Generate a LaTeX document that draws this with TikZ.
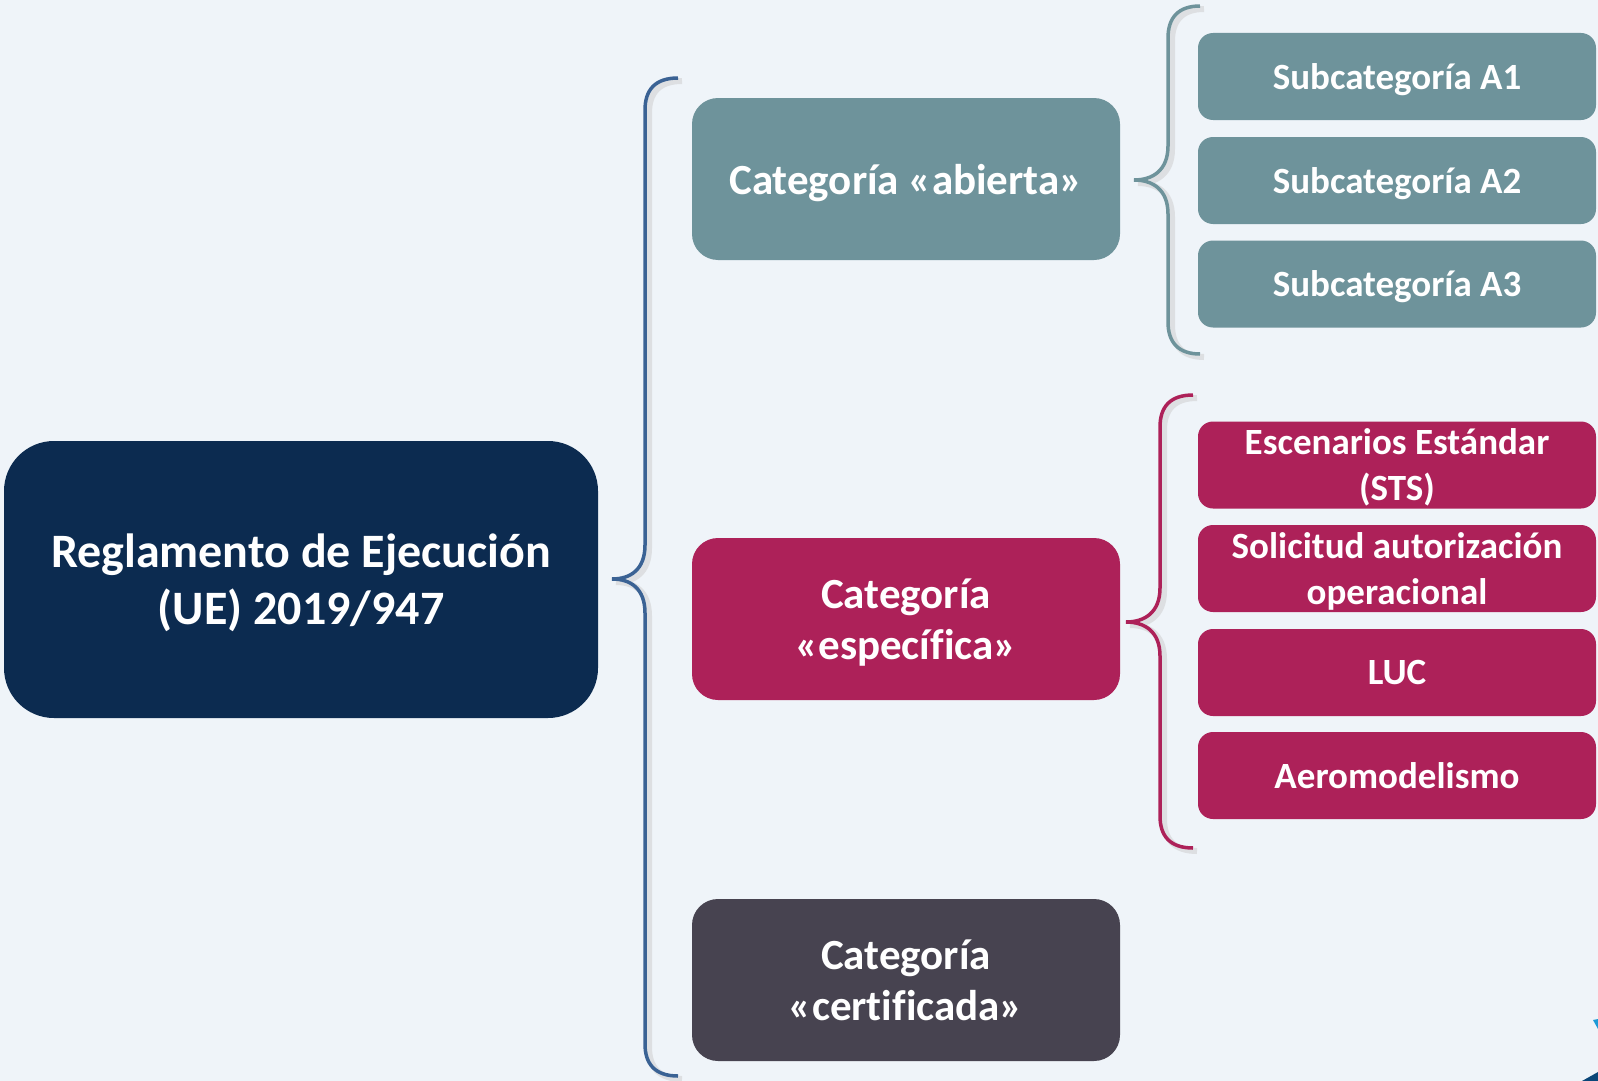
\documentclass[tikz,border=0pt]{standalone}
\usepackage{fontspec}
\setmainfont{Carlito}[Ligatures=NoCommon]
\usepackage{xcolor}
\definecolor{regBg}{RGB}{239,244,249}
\definecolor{regNavy}{RGB}{12,43,80}
\definecolor{regBrace}{RGB}{58,98,148}
\definecolor{regTeal}{RGB}{110,147,155}
\definecolor{regCrimson}{RGB}{173,33,89}
\definecolor{regSlate}{RGB}{71,67,80}
\definecolor{regLogoA}{RGB}{30,154,214}
\definecolor{regLogoB}{RGB}{10,70,120}

% curly brace: tip x, stem x, end x, top y, tip y, bottom y, colour
\newcommand{\regbrace}[7]{%
  \draw[black!20,opacity=0.5,line width=6pt,shift={(4,3)}]
    (#3,#4) .. controls ({#2+10},#4) and (#2,{#4+12}) .. (#2,{#4+32})
    -- (#2,{#5-34}) .. controls (#2,{#5-9}) and ({#1+18},#5) .. (#1,#5)
    .. controls ({#1+18},#5) and (#2,{#5+9}) .. (#2,{#5+34})
    -- (#2,{#6-32}) .. controls (#2,{#6-12}) and ({#2+10},#6) .. (#3,#6);
  \draw[#7,line width=3.5pt]
    (#3,#4) .. controls ({#2+10},#4) and (#2,{#4+12}) .. (#2,{#4+32})
    -- (#2,{#5-34}) .. controls (#2,{#5-9}) and ({#1+18},#5) .. (#1,#5)
    .. controls ({#1+18},#5) and (#2,{#5+9}) .. (#2,{#5+34})
    -- (#2,{#6-32}) .. controls (#2,{#6-12}) and ({#2+10},#6) .. (#3,#6);
}

\tikzset{
  mainbox/.style={fill=regNavy,rounded corners=50pt,minimum width=594pt,
    minimum height=277pt,text=white,align=center,inner sep=0pt,text depth=0pt,
    font=\fontsize{48}{57}\selectfont\bfseries},
  catbox/.style={rounded corners=26pt,minimum width=428pt,minimum height=162pt,
    text=white,align=center,inner sep=0pt,text depth=0pt,
    font=\fontsize{43}{51}\selectfont\bfseries},
  subbox/.style={rounded corners=15pt,minimum width=398pt,minimum height=87pt,
    text=white,align=center,inner sep=0pt,text depth=0pt,
    font=\fontsize{37}{46}\selectfont\bfseries},
}

\begin{document}
\begin{tikzpicture}[x=1pt,y=-1pt]
  \fill[regBg] (0,0) rectangle (1598,1081);
  \useasboundingbox (0,0) rectangle (1598,1081);

  % main regulation
  \node[mainbox] (reg) at (301,579.5) {Reglamento de Ejecución\\(UE) 2019/947};

  % categories
  \node[catbox,fill=regTeal] (abierta) at (906,179) {Categoría «abierta»};
  \node[catbox,fill=regCrimson] (especifica) at (906,619) {Categoría\\«específica»};
  \node[catbox,fill=regSlate] (certificada) at (906,980) {Categoría\\«certificada»};

  % subcategories
  \node[subbox,fill=regTeal] (a1) at (1397,76.5) {Subcategoría A1};
  \node[subbox,fill=regTeal] (a2) at (1397,180.5) {Subcategoría A2};
  \node[subbox,fill=regTeal] (a3) at (1397,284) {Subcategoría A3};
  \node[subbox,fill=regCrimson] (sts) at (1397,465) {Escenarios Estándar\\(STS)};
  \node[subbox,fill=regCrimson] (sao) at (1397,568.5) {Solicitud autorización\\operacional};
  \node[subbox,fill=regCrimson] (luc) at (1397,672.5) {LUC};
  \node[subbox,fill=regCrimson] (aero) at (1397,775.5) {Aeromodelismo};

  % braces
  \regbrace{612}{645}{678}{78}{579}{1076}{regBrace}
  \regbrace{1134}{1168}{1200}{6}{180}{354}{regTeal}
  \regbrace{1126}{1160}{1193}{395}{622}{848}{regCrimson}

  % logo fragments
  \fill[regLogoA] (1593,1020) -- (1598,1019) -- (1598,1029) -- cycle;
  \fill[regLogoB] (1582,1081) -- (1598,1072) -- (1598,1081) -- cycle;
\end{tikzpicture}
\end{document}
